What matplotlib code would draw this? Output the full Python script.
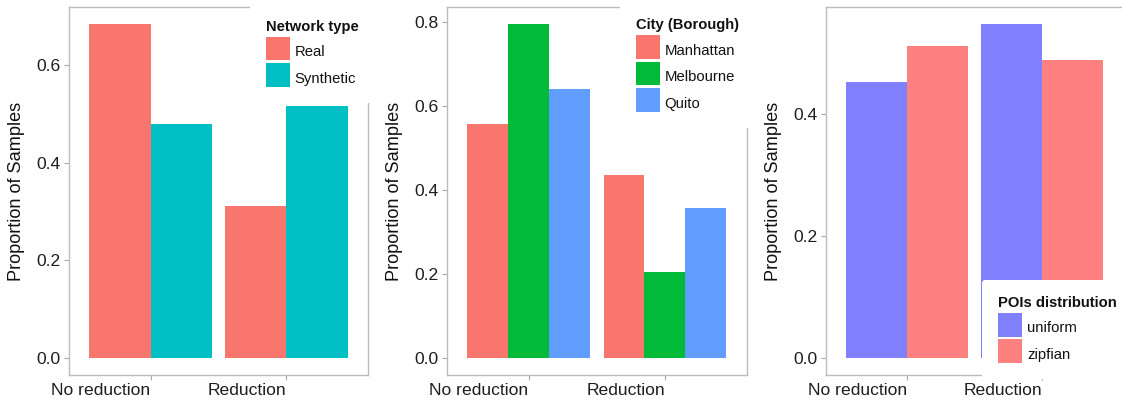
import matplotlib
matplotlib.use("Agg")
import matplotlib.pyplot as plt
import numpy as np

plt.rcParams['font.family'] = ['Liberation Sans', 'DejaVu Sans']

# ---- data ----
groups = ["No reduction", "Reduction"]

network_types = ["Real", "Synthetic"]
network_values = [
    [0.684, 0.311],   # Real
    [0.479, 0.516],   # Synthetic
]
network_colors = ["#F8766D", "#00BFC4"]

cities = ["Manhattan", "Melbourne", "Quito"]
city_values = [
    [0.557, 0.436],   # Manhattan
    [0.795, 0.204],   # Melbourne
    [0.639, 0.357],   # Quito
]
city_colors = ["#F8766D", "#00BA38", "#619CFF"]

poi_dists = ["uniform", "zipfian"]
poi_values = [
    [0.451, 0.547],   # uniform
    [0.511, 0.488],   # zipfian
]
poi_colors = ["#8080FF", "#FF8080"]

yticks_1 = [0.0, 0.2, 0.4, 0.6]
yticks_2 = [0.0, 0.2, 0.4, 0.6, 0.8]
yticks_3 = [0.0, 0.2, 0.4]

# ---- figure geometry (pixels) ----
W, H = 1122, 403
fig = plt.figure(figsize=(W / 100, H / 100), dpi=100)


def fx(px):
    return px / W


def fy(py):
    return 1 - py / H


def make_axes(left, right, top=7, bottom=375):
    return fig.add_axes([fx(left), fy(bottom), (right - left) / W, (bottom - top) / H])


SPINE = "#bcbcbc"
TICK = "#a8a8a8"
LABEL_OFFSET_PX = -44


def draw_panel(ax, names, values, colors, yticks, legend_title, legend_anchor, legend_loc,
               fancy=False):
    n = len(names)
    x = np.arange(1, len(groups) + 1)
    width = 0.9 / n
    for i, (name, vals, col) in enumerate(zip(names, values, colors)):
        offs = -0.45 + width * (i + 0.5)
        ax.bar(x + offs, vals, width=width, color=col, label=name, linewidth=0)
    ymax = max(max(v) for v in values)
    ax.set_ylim(-0.05 * ymax, 1.05 * ymax)
    ax.set_xlim(0.4, len(groups) + 0.6)
    ax.set_xticks(x)
    ax.set_xticklabels(groups, ha="right", fontsize=12.6, color="#1e1e1e")
    ax.set_yticks(yticks)
    ax.set_yticklabels([f"{t:.1f}" for t in yticks], fontsize=12.6, color="#1e1e1e")
    ax.tick_params(axis="both", length=3.4, width=0.8, color=TICK, pad=2.4)
    for sp in ax.spines.values():
        sp.set_color(SPINE)
        sp.set_linewidth(1.0)
    ax.set_facecolor("white")
    ax.set_ylabel("Proportion of Samples", fontsize=13.1, color="#111111")
    bb = ax.get_position()
    ax.yaxis.set_label_coords(LABEL_OFFSET_PX / (bb.width * W), 0.5)

    leg = ax.legend(
        title=legend_title,
        loc=legend_loc,
        bbox_to_anchor=(fx(legend_anchor[0]), fy(legend_anchor[1])),
        bbox_transform=fig.transFigure,
        borderaxespad=0,
        frameon=True,
        fancybox=fancy,
        framealpha=1,
        facecolor="white",
        edgecolor="none",
        fontsize=10.7,
        title_fontproperties={"weight": "bold", "size": 10.6},
        alignment="left",
        borderpad=1.07,
        handlelength=1.62,
        handleheight=2.1,
        handletextpad=0.3,
        labelspacing=0.18,
    )
    # centre the entry labels on their colour keys
    for t in leg.get_texts():
        t.set_color("#111111")
        t.set_y(-3.2)
    leg.get_title().set_color("#111111")
    leg.set_zorder(10)
    return leg


ax1 = make_axes(69, 368)
draw_panel(ax1, network_types, network_values, network_colors, yticks_1,
           "Network type", (250, 103), "lower left")

ax2 = make_axes(446.7, 746.7)
draw_panel(ax2, cities, city_values, city_colors, yticks_2,
           "City (Borough)", (620, 128), "lower left")

ax3 = make_axes(826, 1123)
draw_panel(ax3, poi_dists, poi_values, poi_colors, yticks_3,
           "POIs distribution", (982.5, 280), "upper left", fancy=True)

fig.savefig("out.png", dpi=100, facecolor="white")
